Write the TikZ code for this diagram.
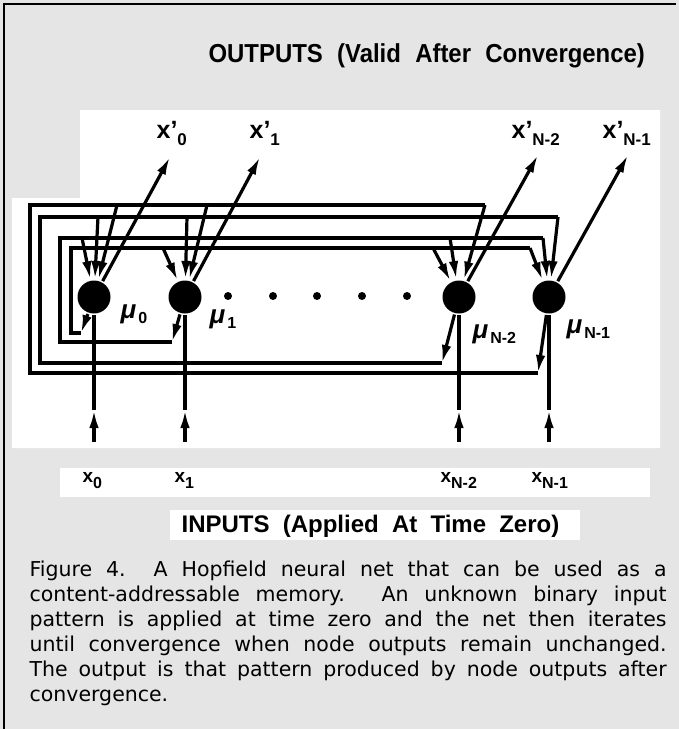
\documentclass[tikz,border=0pt]{standalone}
\usepackage{fontspec}
\setmainfont{Liberation Sans}
\newfontfamily\capfont{DejaVu Sans}
\newfontfamily\headfont[FakeStretch=0.92]{Liberation Sans}
\usetikzlibrary{arrows.meta, positioning}
\definecolor{paper}{gray}{0.9}
\newcommand{\widesp}{\spaceskip=0.55em\relax}
\tikzset{
  every picture/.style={line width=3.2pt},
  neuron/.style={circle, fill=black, minimum size=33pt, inner sep=0pt},
  wire/.style={line width=3.2pt, line join=miter},
  arr/.style={wire, -{Latex[length=18pt, width=9.5pt]}},
  title/.style={font=\fontsize{24}{24}\selectfont\bfseries, anchor=base west, inner sep=0pt},
  outlab/.style={font=\fontsize{25}{25}\selectfont\bfseries, anchor=base west, inner sep=0pt},
  inlab/.style={font=\fontsize{19}{19}\selectfont\bfseries, anchor=base west, inner sep=0pt},
  mulab/.style={font=\fontsize{26}{26}\selectfont\bfseries, anchor=base west, inner sep=0pt},
}
% x' with a lowered index, x with a lowered index, mu with a lowered index
\newcommand{\xout}[1]{x’\raisebox{-7pt}{\fontsize{17}{17}\selectfont #1}}
\newcommand{\xin}[1]{x\raisebox{-6pt}{\fontsize{16}{16}\selectfont #1}}
\newcommand{\mulab}[1]{{\itshape μ}\kern0.08em\raisebox{-5pt}{\fontsize{16}{16}\selectfont #1}}
\begin{document}
\begin{tikzpicture}[x=1pt, y=-1pt]
  \useasboundingbox (0,0) rectangle (679,729);
  % paper: grey screen with white panels
  \fill[paper] (0,0) rectangle (679,729);
  \fill[white] (80,110) -- (660,110) -- (660,448) -- (12,448) -- (12,198) -- (80,198) -- cycle;
  \fill[white] (60,468) rectangle (650,497);
  \fill[white] (170,510) rectangle (580,540);
  \draw[line width=2pt] (4,729) -- (4,4) -- (676,4);

  % titles
  \node[title, font=\headfont\fontsize{26}{26}\selectfont\bfseries] (outT) at (207,62) {\widesp OUTPUTS (Valid After Convergence)};
  \node[title] (inT) at (180,532) {\widesp INPUTS (Applied At Time Zero)};

  % the four nodes
  \node[neuron] (n0) at (94,297) {};
  \node[neuron] (n1) at (185,297) {};
  \node[neuron] (n2) at (459,297) {};
  \node[neuron] (n3) at (549,297) {};
  \foreach \dx in {228,273,317,362,407}
    \fill (\dx,296) circle[radius=4pt];

  \node[mulab] (m0) at (119,318) {\mulab{0}};
  \node[mulab] (m1) at (208,323) {\mulab{1}};
  \node[mulab] (m2) at (471,338) {\mulab{N-2}};
  \node[mulab] (m3) at (565,333) {\mulab{N-1}};

  % inputs from below
  \foreach \k/\xx in {0/94, 1/185, 2/459, 3/549} {
    \coordinate (i\k) at (\xx,442);
    \coordinate (h\k) at (\xx,410);
    \draw[arr] (i\k) -- (h\k);
    \draw[wire] (h\k) -- (n\k);
  }
  \node[inlab] (x0) at (81,482) {\xin{0}};
  \node[inlab] (x1) at (173,482) {\xin{1}};
  \node[inlab] (x2) at (439,482) {\xin{N-2}};
  \node[inlab] (x3) at (530,482) {\xin{N-1}};

  % outputs to the top
  \coordinate (o0) at (170,157);
  \coordinate (o1) at (260,157);
  \coordinate (o2) at (538,155);
  \coordinate (o3) at (628,155);
  \foreach \k in {0,...,3} \draw[arr] (n\k) -- (o\k);
  \node[outlab] (y0) at (155,138) {\xout{0}};
  \node[outlab] (y1) at (248,138) {\xout{1}};
  \node[outlab] (y2) at (510,138) {\xout{N-2}};
  \node[outlab] (y3) at (601,138) {\xout{N-1}};

  % feedback: each output runs round and feeds the other three nodes
  \coordinate (fb0) at (81,333);
  \coordinate (fb1) at (172,342);
  \coordinate (fb2) at (442,363);
  \coordinate (fb3) at (538,373);
  \foreach \k in {0,...,3} \draw[arr] (n\k) -- (fb\k);
  \coordinate (cA) at (485,205);
  \coordinate (cB) at (558,217);
  \coordinate (cC) at (543,238);
  \coordinate (cD) at (530,248);
  \draw[wire] (fb3) -| (30,205) -- (cA);
  \draw[wire] (fb2) -| (40,217) -- (cB);
  \draw[wire] (fb1) -| (60,238) -- (cC);
  \draw[wire] (fb0) -| (71,248) -- (cD);
  % taps on the wires
  \coordinate (tA0) at (117,205);
  \coordinate (tB0) at (98,217);
  \coordinate (tC0) at (82,238);
  \coordinate (tD1) at (163,248);
  \coordinate (tB1) at (187,217);
  \coordinate (tA1) at (207,205);
  \coordinate (tD2) at (433,248);
  \coordinate (tC2) at (450,238);
  \foreach \t in {tA0,tB0,tC0} \draw[arr] (\t) -- (n0);
  \foreach \t in {tD1,tB1,tA1} \draw[arr] (\t) -- (n1);
  \foreach \t in {tD2,tC2,cA} \draw[arr] (\t) -- (n2);
  \foreach \t in {cD,cC,cB} \draw[arr] (\t) -- (n3);

  % caption
  \node[anchor=north west, inner sep=0pt, text width=637pt, align=justify,
        font=\capfont\fontsize{20.5}{25}\selectfont] (cap) at (28,559)
    {\hyphenpenalty=10000\exhyphenpenalty=10000
     Figure 4.\ \ A Hopfield neural net that can be used as a\linebreak
     content-addressable memory. An unknown binary input\linebreak
     pattern is applied at time zero and the net then iterates\linebreak
     until convergence when node outputs remain unchanged.\linebreak
     The output is that pattern produced by node outputs after\linebreak
     convergence.};
\end{tikzpicture}
\end{document}
